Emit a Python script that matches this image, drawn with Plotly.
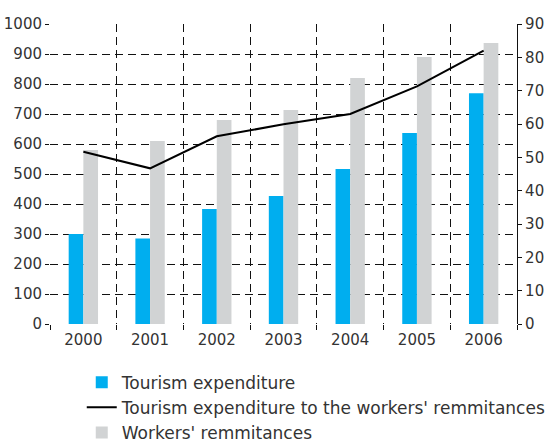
import plotly.graph_objects as go

years = ["2000", "2001", "2002", "2003", "2004", "2005", "2006"]
tourism_expenditure = [300, 285, 383, 427, 517, 637, 769]
workers_remittances = [580, 610, 680, 713, 820, 890, 937]
ratio_pct = [51.7, 46.7, 56.3, 59.9, 63.0, 71.3, 82.0]

FONT = "DejaVu Sans"
TXT = "#333333"

fig = go.Figure()
fig.add_trace(go.Bar(x=years, y=tourism_expenditure, name="Tourism expenditure",
                     marker=dict(color="#00AEEF", line=dict(width=0))))
fig.add_trace(go.Scatter(x=years, y=ratio_pct, yaxis="y2", mode="lines",
                         name="Tourism expenditure to the workers' remmitances",
                         line=dict(color="black", width=2)))
fig.add_trace(go.Bar(x=years, y=workers_remittances, name="Workers' remmitances",
                     marker=dict(color="#D1D3D4", line=dict(width=0))))

grid = dict(showgrid=True, gridcolor="#111111", griddash="8px,5px", gridwidth=1.3)

fig.update_layout(
    width=548, height=442,
    margin=dict(l=50, r=31, t=24, b=118, autoexpand=False),
    paper_bgcolor="white", plot_bgcolor="white",
    barmode="group", bargap=0.56, bargroupgap=0,
    font=dict(family=FONT, size=15, color=TXT),
    xaxis=dict(type="category", tickson="boundaries", ticks="outside", ticklen=5,
               tickcolor="#111111", showline=False, zeroline=False,
               ticklabelstandoff=5,
               tickfont=dict(size=15, color=TXT), **grid),
    yaxis=dict(range=[0, 1000], dtick=100, ticks="outside", ticklen=4,
               tickcolor="#111111", showline=False, zeroline=False,
               tickfont=dict(size=15, color=TXT), **grid),
    yaxis2=dict(range=[0, 90], dtick=10, overlaying="y", side="right",
                ticks="outside", ticklen=4, tickcolor="#111111",
                showline=True, linecolor="#111111", linewidth=1.2,
                showgrid=False, zeroline=False,
                tickfont=dict(size=15, color=TXT)),
    legend=dict(orientation="v", x=0.068, y=0.175, xanchor="left", yanchor="top",
                yref="container",
                font=dict(size=17, color=TXT), traceorder="normal",
                itemwidth=30, tracegroupgap=0, bgcolor="rgba(0,0,0,0)"),
)

fig.write_html("out.html")
